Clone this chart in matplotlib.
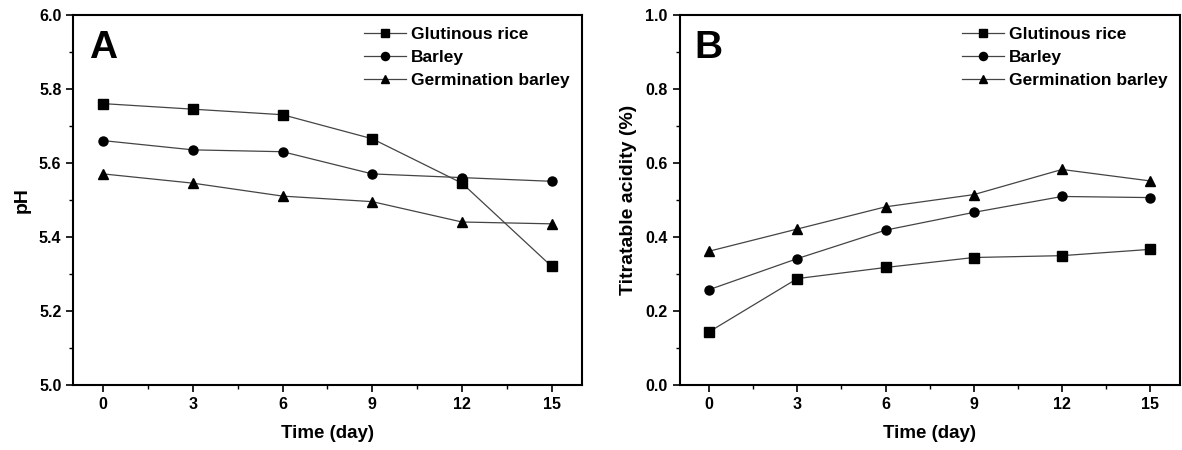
import matplotlib
matplotlib.use("Agg")
import matplotlib.pyplot as plt
from matplotlib.ticker import MultipleLocator

# data
days = [0, 3, 6, 9, 12, 15]
series_names = ["Glutinous rice", "Barley", "Germination barley"]
markers = ["s", "o", "^"]

ph_glutinous = [5.76, 5.745, 5.73, 5.665, 5.545, 5.32]
ph_barley = [5.66, 5.635, 5.63, 5.57, 5.56, 5.55]
ph_germ = [5.57, 5.545, 5.51, 5.495, 5.44, 5.435]

ta_glutinous = [0.143, 0.287, 0.317, 0.344, 0.349, 0.366]
ta_barley = [0.257, 0.341, 0.418, 0.466, 0.509, 0.506]
ta_germ = [0.361, 0.421, 0.481, 0.514, 0.582, 0.551]

plt.rcParams['font.family'] = ['Liberation Sans', 'DejaVu Sans']
plt.rcParams['font.weight'] = 'bold'

fig = plt.figure(figsize=(11.82, 4.5), dpi=100)
ax_a = fig.add_axes([0.062, 0.145, 0.430, 0.822])
ax_b = fig.add_axes([0.575, 0.145, 0.423, 0.822])


def style_axis(ax, ylim, ystep, yminor, ylabel, letter, series):
    for name, m, vals in zip(series_names, markers, series):
        ax.plot(days, vals, color='#444444', lw=0.9, marker=m, ms=6.5,
                markerfacecolor='black', markeredgecolor='black', label=name)
    ax.set_xlim(-1, 16)
    ax.set_ylim(*ylim)
    ax.xaxis.set_major_locator(MultipleLocator(3))
    ax.xaxis.set_minor_locator(MultipleLocator(1.5))
    ax.yaxis.set_major_locator(MultipleLocator(ystep))
    ax.yaxis.set_minor_locator(MultipleLocator(yminor))
    ax.tick_params(which='both', direction='out', top=False, right=False, labelsize=11.5)
    ax.tick_params(which='major', length=5, width=1.2)
    ax.tick_params(which='minor', length=3, width=1.0)
    for lab in ax.get_xticklabels() + ax.get_yticklabels():
        lab.set_fontweight('bold')
    for sp in ax.spines.values():
        sp.set_linewidth(1.5)
    ax.set_xlabel("Time (day)", fontsize=13.5, fontweight='bold', labelpad=10)
    ax.set_ylabel(ylabel, fontsize=14, fontweight='bold', labelpad=6)
    ax.text(0.03, 0.96, letter, transform=ax.transAxes, fontsize=28,
            fontweight='bold', va='top', ha='left')
    leg = ax.legend(loc='upper right', frameon=False, fontsize=12.5,
                    handlelength=2.4, handletextpad=0.3, labelspacing=0.45,
                    borderaxespad=0.3, markerscale=0.9)
    for t in leg.get_texts():
        t.set_fontweight('bold')


style_axis(ax_a, (5.0, 6.0), 0.2, 0.1, "pH", "A",
           [ph_glutinous, ph_barley, ph_germ])
style_axis(ax_b, (0.0, 1.0), 0.2, 0.1, "Titratable acidity (%)", "B",
           [ta_glutinous, ta_barley, ta_germ])

fig.savefig("out.png", dpi=100)
